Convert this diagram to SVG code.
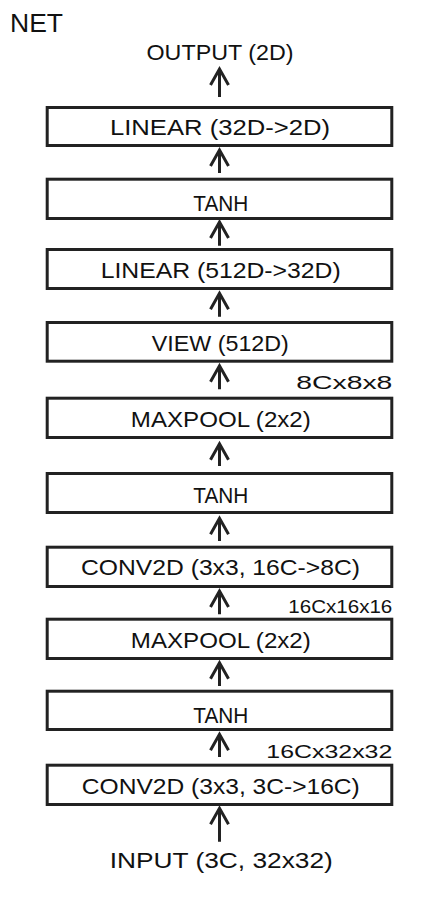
<svg xmlns="http://www.w3.org/2000/svg" width="422" height="898" viewBox="0 0 422 898">
<style>
  .box rect { fill: #ffffff; stroke: #222222; stroke-width: 3; }
  .lbl { font-family: "Liberation Sans", "DejaVu Sans", sans-serif; font-size: 22px; fill: #111111; text-anchor: middle; }
  .side { font-family: "Liberation Sans", "DejaVu Sans", sans-serif; font-size: 19px; fill: #111111; text-anchor: end; }
  .title { font-family: "Liberation Sans", "DejaVu Sans", sans-serif; font-size: 26px; fill: #111111; }
  .arr { fill: none; stroke: #222222; stroke-width: 3; stroke-linecap: butt; stroke-linejoin: miter; }
</style>
<rect x="0" y="0" width="422" height="898" fill="#ffffff"/>

<text class="title" x="10" y="32" textLength="53" lengthAdjust="spacingAndGlyphs">NET</text>

<g id="connectors">
  <path class="arr" d="M219.5,97 V69 M210.5,85 L219.5,69 L228.5,85"/>
  <path class="arr" d="M219.5,173 V150 M210.5,166 L219.5,150 L228.5,166"/>
  <path class="arr" d="M219.5,245.7 V222 M210.5,238 L219.5,222 L228.5,238"/>
  <path class="arr" d="M219.5,316.7 V293.3 M210.5,309.3 L219.5,293.3 L228.5,309.3"/>
  <path class="arr" d="M219.5,389.3 V365.7 M210.5,381.7 L219.5,365.7 L228.5,381.7"/>
  <path class="arr" d="M219.5,466 V443.7 M210.5,459.7 L219.5,443.7 L228.5,459.7"/>
  <path class="arr" d="M219.5,541 V518.3 M210.5,534.3 L219.5,518.3 L228.5,534.3"/>
  <path class="arr" d="M219.5,614.3 V591 M210.5,607 L219.5,591 L228.5,607"/>
  <path class="arr" d="M219.5,686 V662.7 M210.5,678.7 L219.5,662.7 L228.5,678.7"/>
  <path class="arr" d="M219.5,757 V734.3 M210.5,750.3 L219.5,734.3 L228.5,750.3"/>
  <path class="arr" d="M219.5,841.7 V808.3 M210.5,824.3 L219.5,808.3 L228.5,824.3"/>
</g>

<g id="output"><text class="lbl" x="220" y="60" textLength="147" lengthAdjust="spacingAndGlyphs">OUTPUT (2D)</text></g>

<g id="linear2" class="box">
  <rect x="47.2" y="107.5" width="344.6" height="38"/>
  <text class="lbl" x="220" y="135" textLength="220" lengthAdjust="spacingAndGlyphs">LINEAR (32D-&gt;2D)</text>
</g>
<g id="tanh3" class="box">
  <rect x="47.2" y="179.2" width="344.6" height="39.3"/>
  <text class="lbl" x="220.8" y="210.7" textLength="55" lengthAdjust="spacingAndGlyphs">TANH</text>
</g>
<g id="linear1" class="box">
  <rect x="47.2" y="249.5" width="344.6" height="39"/>
  <text class="lbl" x="220.7" y="278.3" textLength="240" lengthAdjust="spacingAndGlyphs">LINEAR (512D-&gt;32D)</text>
</g>
<g id="view" class="box">
  <rect x="47.2" y="322.5" width="344.6" height="38.7"/>
  <text class="lbl" x="220.3" y="350.7" textLength="137" lengthAdjust="spacingAndGlyphs">VIEW (512D)</text>
</g>
<text class="side" x="392.3" y="389.3" textLength="96" lengthAdjust="spacingAndGlyphs">8Cx8x8</text>
<g id="maxpool2" class="box">
  <rect x="47.2" y="398.2" width="344.6" height="39.3"/>
  <text class="lbl" x="220.8" y="426.7" textLength="180" lengthAdjust="spacingAndGlyphs">MAXPOOL (2x2)</text>
</g>
<g id="tanh2" class="box">
  <rect x="47.2" y="473.5" width="344.6" height="39"/>
  <text class="lbl" x="220.8" y="503.3" textLength="55" lengthAdjust="spacingAndGlyphs">TANH</text>
</g>
<g id="conv2" class="box">
  <rect x="47.2" y="547.2" width="344.6" height="39.3"/>
  <text class="lbl" x="220.5" y="575" textLength="279" lengthAdjust="spacingAndGlyphs">CONV2D (3x3, 16C-&gt;8C)</text>
</g>
<text class="side" x="392.3" y="613.3" textLength="104" lengthAdjust="spacingAndGlyphs">16Cx16x16</text>
<g id="maxpool1" class="box">
  <rect x="47.2" y="619.2" width="344.6" height="39.3"/>
  <text class="lbl" x="220.8" y="648.3" textLength="180" lengthAdjust="spacingAndGlyphs">MAXPOOL (2x2)</text>
</g>
<g id="tanh1" class="box">
  <rect x="47.2" y="691.2" width="344.6" height="38.3"/>
  <text class="lbl" x="220.8" y="722.7" textLength="55" lengthAdjust="spacingAndGlyphs">TANH</text>
</g>
<text class="side" x="392.3" y="758.3" textLength="126" lengthAdjust="spacingAndGlyphs">16Cx32x32</text>
<g id="conv1" class="box">
  <rect x="47.2" y="765.2" width="344.6" height="39.3"/>
  <text class="lbl" x="220.8" y="794" textLength="278" lengthAdjust="spacingAndGlyphs">CONV2D (3x3, 3C-&gt;16C)</text>
</g>

<g id="input"><text class="lbl" x="221.3" y="868.3" textLength="223" lengthAdjust="spacingAndGlyphs">INPUT (3C, 32x32)</text></g>
</svg>
